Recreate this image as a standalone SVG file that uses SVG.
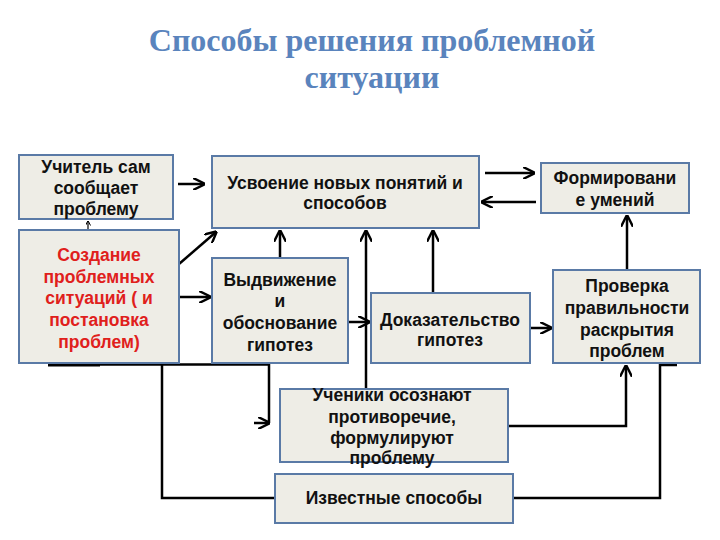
<svg xmlns="http://www.w3.org/2000/svg" width="720" height="540" viewBox="0 0 720 540">
<style>
.box{fill:#eeede6;stroke:#5a7aa6;stroke-width:2}
.t{font-family:"Liberation Sans",Arial,sans-serif;font-weight:bold;font-size:17.5px;fill:#111;text-anchor:middle}
.red{fill:#e0201c}
.title{font-family:"Liberation Serif","Times New Roman",serif;font-weight:bold;font-size:32px;fill:#5a84bd;text-anchor:middle}
.c{fill:none;stroke:#000;stroke-width:2.5}
</style>
<defs>
<marker id="b" viewBox="0 0 10 10" refX="9" refY="5" markerWidth="12" markerHeight="12" orient="auto" markerUnits="userSpaceOnUse">
<path d="M0,0 L10,5 L0,10" fill="none" stroke="#000" stroke-width="2"/>
</marker>
<marker id="s" viewBox="0 0 10 10" refX="9" refY="5" markerWidth="5" markerHeight="5" orient="auto" markerUnits="userSpaceOnUse">
<path d="M0,0 L10,5 L0,10" fill="none" stroke="#000" stroke-width="2"/>
</marker>
</defs>
<rect width="720" height="540" fill="#fff"/>
<text class="title" x="372" y="51">Способы решения проблемной</text>
<text class="title" x="372" y="88">ситуации</text>

<g id="connectors">
<line class="c" x1="178" y1="184" x2="204" y2="184" marker-end="url(#b)"/>
<line x1="88" y1="230" x2="88" y2="221" stroke="#000" stroke-width="1.2" marker-end="url(#s)"/>
<line class="c" x1="179" y1="264" x2="216" y2="232" marker-end="url(#b)"/>
<line class="c" x1="179" y1="297" x2="210" y2="297" marker-end="url(#b)"/>
<line class="c" x1="280" y1="258" x2="280" y2="231" marker-end="url(#b)"/>
<line class="c" x1="366" y1="389" x2="366" y2="231" marker-end="url(#b)"/>
<line class="c" x1="433" y1="293" x2="433" y2="231" marker-end="url(#b)"/>
<line class="c" x1="348" y1="322" x2="369" y2="322" marker-end="url(#b)"/>
<line class="c" x1="530" y1="328" x2="551" y2="328" marker-end="url(#b)"/>
<line class="c" x1="627" y1="270" x2="627" y2="216" marker-end="url(#b)"/>
<line class="c" x1="485" y1="173" x2="534" y2="173" marker-end="url(#b)"/>
<line class="c" x1="536" y1="202" x2="482" y2="202" marker-end="url(#b)"/>
<line x1="48" y1="364.5" x2="100" y2="364.5" stroke="#000" stroke-width="4"/>
<path class="c" d="M98,364.5 H269 V423"/>
<line class="c" x1="254" y1="423" x2="269" y2="423" marker-end="url(#b)"/>
<path class="c" d="M162,364.5 V498 H275"/>
<path class="c" d="M508,426 H626 V366" marker-end="url(#b)"/>
<path class="c" d="M513,498 H660 V365 H677"/>
</g>

<g id="n1"><rect class="box" x="19" y="155" width="154" height="64"/>
<text class="t" x="96" y="173">Учитель сам</text><text class="t" x="96" y="194">сообщает</text><text class="t" x="96" y="215">проблему</text></g>

<g id="n2"><rect class="box" x="19" y="230" width="160" height="133"/>
<text class="t red" x="99" y="261">Создание</text><text class="t red" x="99" y="283">проблемных</text><text class="t red" x="99" y="304">ситуаций ( и</text><text class="t red" x="99" y="326">постановка</text><text class="t red" x="99" y="348">проблем)</text></g>

<g id="n3"><rect class="box" x="212" y="156" width="267" height="72"/>
<text class="t" x="345" y="189">Усвоение новых понятий и</text><text class="t" x="345" y="209">способов</text></g>

<g id="n4"><rect class="box" x="212" y="258" width="136" height="105"/>
<text class="t" x="280" y="286">Выдвижение</text><text class="t" x="280" y="307">и</text><text class="t" x="280" y="329">обоснование</text><text class="t" x="280" y="351">гипотез</text></g>

<g id="n5"><rect class="box" x="371" y="293" width="159" height="70"/>
<text class="t" x="450" y="326">Доказательство</text><text class="t" x="450" y="346">гипотез</text></g>

<g id="n6"><rect class="box" x="541" y="163" width="148" height="50"/>
<text class="t" x="615" y="184">Формировани</text><text class="t" x="615" y="206">е умений</text></g>

<g id="n7"><rect class="box" x="553" y="270" width="147" height="93"/>
<text class="t" x="627" y="292">Проверка</text><text class="t" x="627" y="314">правильности</text><text class="t" x="627" y="336">раскрытия</text><text class="t" x="627" y="357">проблем</text></g>

<g id="n8"><rect class="box" x="280" y="389" width="228" height="73"/>
<text class="t" x="392" y="401">Ученики осознают</text><text class="t" x="392" y="423">противоречие,</text><text class="t" x="392" y="444">формулируют</text><text class="t" x="392" y="464">проблему</text></g>

<g id="n9"><rect class="box" x="275" y="474" width="238" height="49"/>
<text class="t" x="394" y="504">Известные способы</text></g>
</svg>
